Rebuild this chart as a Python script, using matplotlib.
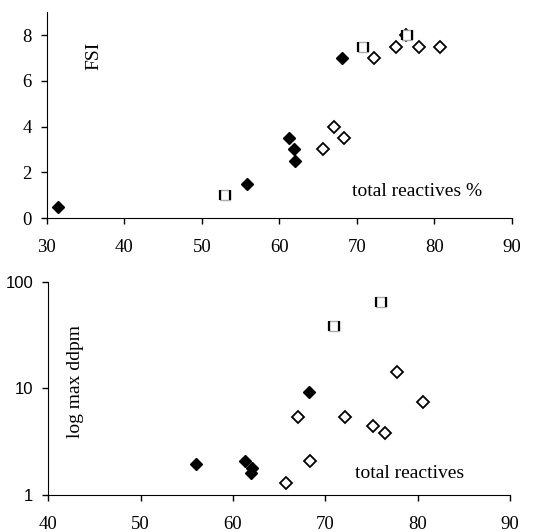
import matplotlib.pyplot as plt
import matplotlib.ticker as mticker
from matplotlib.path import Path

plt.rcParams["font.family"] = ["Liberation Serif", "DejaVu Serif"]

# top panel: FSI vs total reactives %
fsi_filled_x = [31.5, 55.8, 61.2, 61.9, 62.0, 68.1]
fsi_filled_y = [0.5, 1.5, 3.5, 3.0, 2.5, 7.0]
fsi_square_x = [53.0, 70.8, 76.5]
fsi_square_y = [1.0, 7.5, 8.0]
fsi_open_x = [72.2, 75.0, 76.3, 78.0, 80.7, 67.1, 65.6, 68.4]
fsi_open_y = [7.0, 7.5, 8.0, 7.5, 7.5, 4.0, 3.0, 3.5]

# bottom panel: max ddpm (log) vs total reactives
ddpm_filled_x = [56.0, 61.3, 62.1, 61.9, 68.2]
ddpm_filled_y = [1.94, 2.07, 1.79, 1.60, 9.3]
ddpm_square_x = [70.9, 76.0]
ddpm_square_y = [39.0, 65.0]
ddpm_open_x = [67.0, 72.1, 75.2, 76.5, 77.8, 80.6, 68.3, 65.7]
ddpm_open_y = [5.36, 5.36, 4.48, 3.85, 14.4, 7.47, 2.07, 1.30]

# the square markers have heavy sides and faint top/bottom
SIDES = Path([(-0.5, -0.5), (-0.5, 0.5), (0.5, -0.5), (0.5, 0.5)],
             [Path.MOVETO, Path.LINETO, Path.MOVETO, Path.LINETO])


def style_axes(ax):
    for side in ["top", "right"]:
        ax.spines[side].set_visible(False)
    ax.tick_params(direction="out", length=4, width=1, labelsize=13.5)
    ax.tick_params(axis="x", pad=11)
    ax.tick_params(axis="y", pad=7)


def draw_points(ax, fx, fy, sx, sy, ox, oy):
    ax.plot(fx, fy, "D", ms=5.8, mfc="black", mec="black", ls="none", zorder=3)
    ax.plot(ox, oy, "D", ms=5.8, mfc="white", mec="black", mew=1.3, ls="none", zorder=3)
    ax.plot(sx, sy, "s", ms=7, mfc="white", mec="#aaaaaa", mew=1.0, ls="none", zorder=4)
    ax.plot(sx, sy, marker=SIDES, ms=7, mfc="none", mec="black", mew=1.6, ls="none", zorder=5)


fig = plt.figure(figsize=(5.45, 5.32), dpi=100)

ax1 = fig.add_axes([0.086, 0.590, 0.853, 0.387])
draw_points(ax1, fsi_filled_x, fsi_filled_y, fsi_square_x, fsi_square_y, fsi_open_x, fsi_open_y)
ax1.set_xlim(30, 90)
ax1.set_ylim(0, 9)
ax1.set_xticks(range(30, 91, 10))
ax1.set_yticks(range(0, 9, 2))
style_axes(ax1)
fig.text(94 / 545, 1 - 56 / 532, "FSI", rotation=90, ha="center", va="center", fontsize=14)
fig.text(417 / 545, 1 - 191 / 532, "total reactives %", ha="center", va="center", fontsize=14)

ax2 = fig.add_axes([0.0886, 0.0695, 0.8474, 0.4005])
draw_points(ax2, ddpm_filled_x, ddpm_filled_y, ddpm_square_x, ddpm_square_y, ddpm_open_x, ddpm_open_y)
ax2.set_yscale("log")
ax2.set_xlim(40, 90)
ax2.set_ylim(1, 100)
ax2.set_xticks(range(40, 91, 10))
ax2.set_yticks([1, 10, 100])
ax2.yaxis.set_major_formatter(mticker.FuncFormatter(lambda v, p: f"{v:g}"))
ax2.yaxis.set_minor_locator(mticker.NullLocator())
style_axes(ax2)
for lab in ax2.get_yticklabels():
    lab.set_family("Liberation Sans")
    lab.set_fontsize(12)
fig.text(76 / 545, 1 - 382 / 532, "log max ddpm", rotation=90, ha="center", va="center", fontsize=14)
fig.text(410 / 545, 1 - 474 / 532, "total reactives", ha="center", va="center", fontsize=14)

fig.savefig("out.png", dpi=100)
